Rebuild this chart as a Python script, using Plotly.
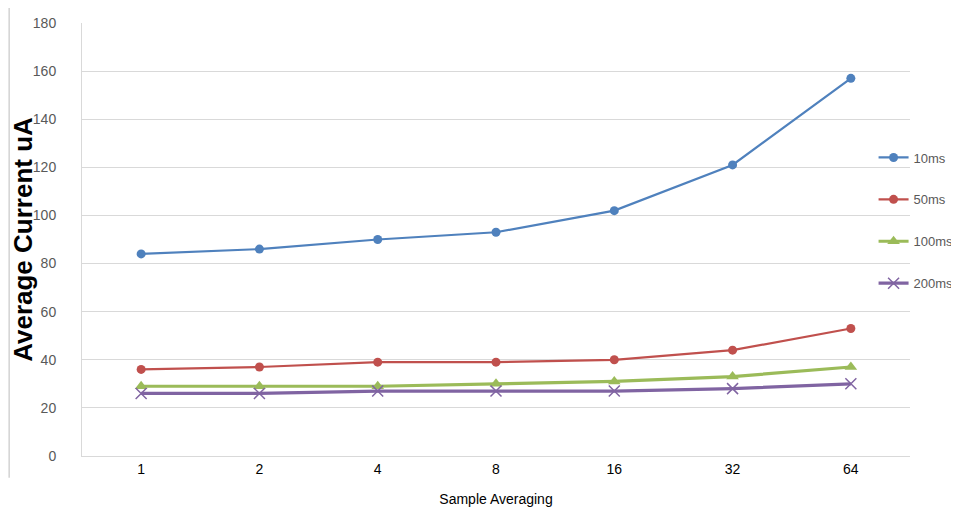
import plotly.graph_objects as go

# Data
sample_avg = ['1', '2', '4', '8', '16', '32', '64']
ms10 = [84, 86, 90, 93, 102, 121, 157]
ms50 = [36, 37, 39, 39, 40, 44, 53]
ms100 = [29, 29, 29, 30, 31, 33, 37]
ms200 = [26, 26, 27, 27, 27, 28, 30]

fig = go.Figure()

fig.add_trace(go.Scatter(x=sample_avg, y=ms10, name='10ms', mode='lines+markers', legendgroup='a',
                         line=dict(color='#4F81BD', width=2.2),
                         marker=dict(symbol='circle', size=9, color='#4F81BD')))
fig.add_trace(go.Scatter(x=sample_avg, y=ms50, name='50ms', mode='lines+markers', legendgroup='b',
                         line=dict(color='#C0504D', width=2.2),
                         marker=dict(symbol='circle', size=9, color='#C0504D')))
fig.add_trace(go.Scatter(x=sample_avg, y=ms100, name='100ms', mode='lines+markers', legendgroup='c',
                         line=dict(color='#9BBB59', width=3.2),
                         marker=dict(symbol='triangle-up', size=11, color='#9BBB59')))
fig.add_trace(go.Scatter(x=sample_avg, y=ms200, name='200ms', mode='lines+markers', legendgroup='d',
                         line=dict(color='#8064A2', width=3.2),
                         marker=dict(symbol='x-thin', size=11, line=dict(color='#8064A2', width=1.5))))

# outer chart frame edge on the left
fig.add_shape(type='line', xref='paper', yref='paper', x0=-0.088, x1=-0.088, y0=-0.05, y1=1.06,
              line=dict(color='#c8c8c8', width=1.2))

# page body keeps an 8px margin, so the figure is 8px smaller and shifted
fig.update_layout(
    width=951, height=508,
    margin=dict(l=74, r=49, t=15, b=60, autoexpand=False),
    plot_bgcolor='white', paper_bgcolor='white',
    font=dict(family='Arial, Liberation Sans, sans-serif'),
    showlegend=True,
    legend=dict(x=0.956, y=0.724, xanchor='left', yanchor='top',
                font=dict(size=13, color='#595959'), tracegroupgap=22,
                bgcolor='rgba(0,0,0,0)', itemwidth=30),
    xaxis=dict(title=dict(text='Sample Averaging', font=dict(size=14, color='#000000'), standoff=18),
               tickfont=dict(size=14, color='#000000'), showgrid=False, automargin=False,
               range=[-0.5, 6.5],
               showline=True, linecolor='#d9d9d9', ticks=''),
    yaxis=dict(title=dict(text='<b>Average Current uA</b>', font=dict(size=26, color='#000000'), standoff=0),
               range=[0, 180], dtick=20, tickfont=dict(size=14, color='#595959'), automargin=False,
               ticklabelstandoff=22,
               gridcolor='#d9d9d9', showline=True, linecolor='#d9d9d9', zeroline=False, ticks=''),
)

fig.write_html("out.html")
